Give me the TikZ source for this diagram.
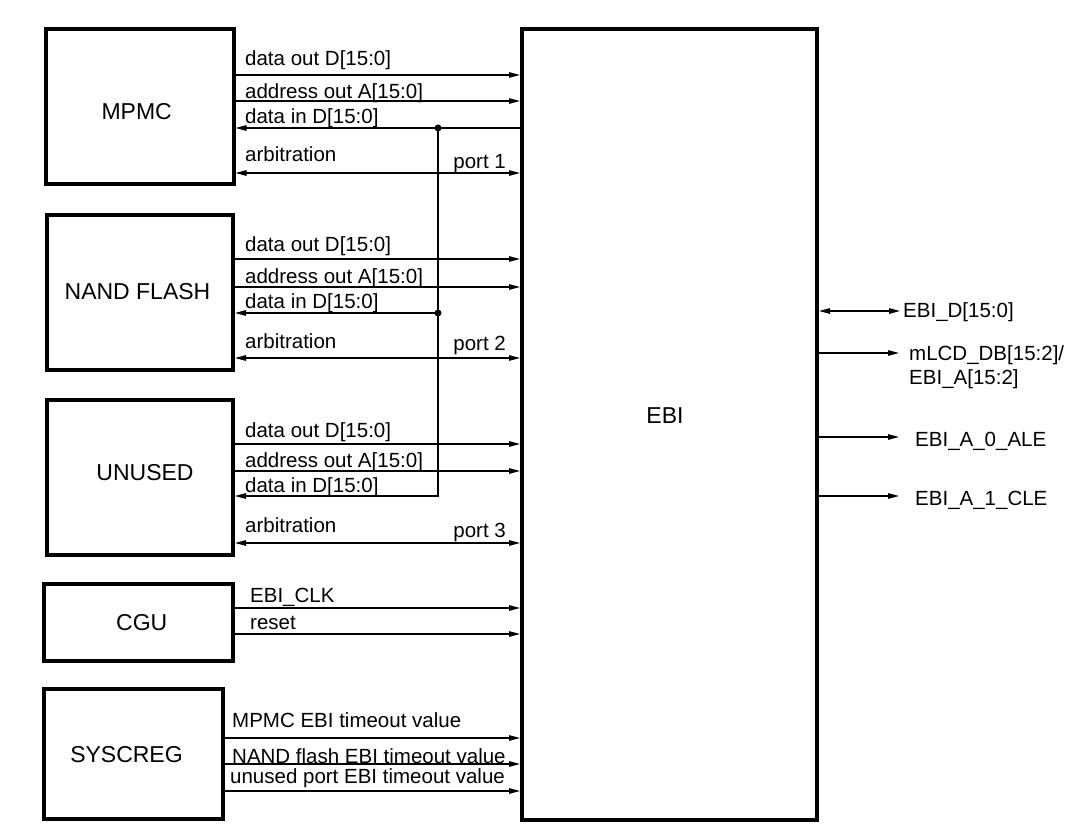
\documentclass[tikz,border=0pt]{standalone}
\usepackage{fontspec}
\setmainfont{Liberation Sans}
\usetikzlibrary{arrows.meta}
\begin{document}
\begin{tikzpicture}[x=1pt,y=-1pt,
  blk/.style={draw,line width=4pt,inner sep=0pt},
  title/.style={font=\fontsize{23}{27}\selectfont,inner sep=0pt},
  lbl/.style={font=\fontsize{20.5}{24}\selectfont,inner sep=0pt,anchor=base west},
  rlbl/.style={font=\fontsize{20.5}{24}\selectfont,inner sep=0pt,anchor=base east},
  tip/.tip={Triangle[length=11pt,width=5.5pt]},
  sig/.style={line width=1.25pt,-tip},
  bid/.style={line width=1.25pt,tip-tip},
  wire/.style={line width=1.25pt}]
\useasboundingbox (0,0) rectangle (1084,840);
\fill[white] (0,0) rectangle (1084,840);

% blocks
\node[blk,minimum width=187.5pt,minimum height=155pt] (mpmc) at (139.75,106.5) {};
\node[blk,minimum width=186.3pt,minimum height=155.5pt] (nand) at (139.85,292.25) {};
\node[blk,minimum width=186.3pt,minimum height=155.5pt] (unused) at (139.85,477.25) {};
\node[blk,minimum width=189.3pt,minimum height=77.3pt] (cgu) at (138.35,622.35) {};
\node[blk,minimum width=179.3pt,minimum height=130pt] (sysc) at (133.35,753.7) {};
\node[blk,minimum width=295pt,minimum height=791pt] (ebi) at (669.5,424.5) {};

\node[title] (tmpmc) at (136.7,111.7) {MPMC};
\node[title] (tnand) at (137.5,291.7) {NAND FLASH};
\node[title] (tunused) at (145,473) {UNUSED};
\node[title] (tcgu) at (141.7,622.7) {CGU};
\node[title] (tsysc) at (126.5,755) {SYSCREG};
\node[title] (tebi) at (665,416) {EBI};

% junctions
\coordinate (j1) at (438,128);
\coordinate (j2) at (438,313);
\coordinate (j3) at (438,496);

% MPMC port
\draw[sig] (mpmc.east |- 0,75) -- (ebi.west |- 0,75);
\draw[sig] (mpmc.east |- 0,101) -- (ebi.west |- 0,101);
\draw[sig] (ebi.west |- 0,128) -- (mpmc.east |- 0,128);
\draw[bid] (mpmc.east |- 0,173) -- (ebi.west |- 0,173);
\node[lbl] (l1a) at (245,66) {data out D[15:0]};
\node[lbl] (l1b) at (245,99) {address out A[15:0]};
\node[lbl] (l1c) at (245,124) {data in D[15:0]};
\node[lbl] (l1d) at (245,161) {arbitration};
\node[rlbl] (p1) at (506,168) {port 1};

% NAND port
\draw[sig] (nand.east |- 0,259) -- (ebi.west |- 0,259);
\draw[sig] (nand.east |- 0,287) -- (ebi.west |- 0,287);
\draw[sig] (j2) -- (nand.east |- j2);
\draw[bid] (nand.east |- 0,358) -- (ebi.west |- 0,358);
\node[lbl] (l2a) at (245,251) {data out D[15:0]};
\node[lbl] (l2b) at (245,283) {address out A[15:0]};
\node[lbl] (l2c) at (245,308) {data in D[15:0]};
\node[lbl] (l2d) at (245,348) {arbitration};
\node[rlbl] (p2) at (506,350) {port 2};

% UNUSED port
\draw[sig] (unused.east |- 0,444) -- (ebi.west |- 0,444);
\draw[sig] (unused.east |- 0,471) -- (ebi.west |- 0,471);
\draw[sig] (j1) -- (j3) -- (unused.east |- j3);
\draw[bid] (unused.east |- 0,543) -- (ebi.west |- 0,543);
\node[lbl] (l3a) at (245,437) {data out D[15:0]};
\node[lbl] (l3b) at (245,467) {address out A[15:0]};
\node[lbl] (l3c) at (245,492) {data in D[15:0]};
\node[lbl] (l3d) at (245,532) {arbitration};
\node[rlbl] (p3) at (506,537) {port 3};

\fill (j1) circle (3.5pt);
\fill (j2) circle (3.5pt);

% CGU
\draw[sig] (cgu.east |- 0,608) -- (ebi.west |- 0,608);
\draw[sig] (cgu.east |- 0,634) -- (ebi.west |- 0,634);
\node[lbl] (lclk) at (250,602) {EBI\_CLK};
\node[lbl] (lrst) at (250,629) {reset};

% SYSCREG
\draw[sig] (sysc.east |- 0,738) -- (ebi.west |- 0,738);
\draw[sig] (sysc.east |- 0,764) -- (ebi.west |- 0,764);
\draw[sig] (sysc.east |- 0,791) -- (ebi.west |- 0,791);
\node[lbl] (ls1) at (232,727) {MPMC EBI timeout value};
\node[lbl] (ls2) at (232,763) {NAND flash EBI timeout value};
\node[lbl] (ls3) at (230,783) {unused port EBI timeout value};

% right side
\coordinate (o1) at (900,311);
\coordinate (o2) at (899,353);
\coordinate (o3) at (899,437);
\coordinate (o4) at (899,496);
\draw[bid] (ebi.east |- o1) -- (o1);
\draw[sig] (ebi.east |- o2) -- (o2);
\draw[sig] (ebi.east |- o3) -- (o3);
\draw[sig] (ebi.east |- o4) -- (o4);
\node[lbl] (r1) at (903,317) {EBI\_D[15:0]};
\node[lbl] (r2a) at (909,360) {mLCD\_DB[15:2]/};
\node[lbl] (r2b) at (909,384) {EBI\_A[15:2]};
\node[lbl] (r3) at (915,446) {EBI\_A\_0\_ALE};
\node[lbl] (r4) at (915,505) {EBI\_A\_1\_CLE};
\end{tikzpicture}
\end{document}
